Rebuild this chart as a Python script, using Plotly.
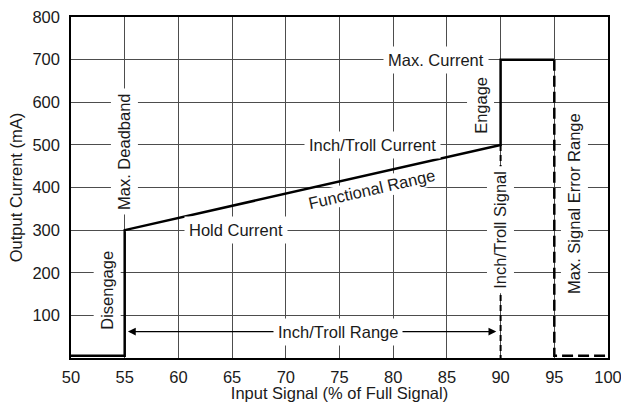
import plotly.graph_objects as go

# ---- data ----
x_solid = [50, 55, 55, 90, 90, 95]
y_solid = [5, 5, 300, 500, 700, 700]
x_error = [95, 95, 100]
y_error = [700, 5, 5]
x_signal = [90, 90]
y_signal = [500, 0]

x_ticks = [50, 55, 60, 65, 70, 75, 80, 85, 90, 95, 100]
y_ticks = [100, 200, 300, 400, 500, 600, 700, 800]

label_text = ["Max. Current", "Engage", "Inch/Troll Current", "Functional Range",
              "Hold Current", "Max. Deadband", "Disengage", "Inch/Troll Range",
              "Inch/Troll Signal", "Max. Signal Error Range"]
label_x = [84.0, 88.1, 78.1, 78.0, 65.4, 55.0, 53.35, 74.9, 90.0, 96.9]
label_y = [700, 592, 500, 397, 300, 485, 160, 62, 300, 363]
label_angle = [0, -90, 0, -12.8, 0, -90, -90, 0, -90, -90]
label_pad = [4, 4, 4, 1, 4, 4, 4, 4, 4, 4]

range_start, range_end, range_level = 55.3, 89.6, 62

FONT = "Liberation Sans, Arial, Helvetica, sans-serif"
FS = 16.5

fig = go.Figure()
fig.add_trace(go.Scatter(x=x_signal, y=y_signal, mode="lines",
                         line=dict(color="black", width=2, dash="6px,4px"),
                         showlegend=False, hoverinfo="skip"))
fig.add_trace(go.Scatter(x=x_error, y=y_error, mode="lines",
                         line=dict(color="black", width=2.5, dash="11px,5px"),
                         showlegend=False, hoverinfo="skip"))
fig.add_trace(go.Scatter(x=x_solid, y=y_solid, mode="lines",
                         line=dict(color="black", width=2.5),
                         showlegend=False, hoverinfo="skip"))

# double arrow for Inch/Troll Range
mid = (range_start + range_end) / 2
for tip in (range_start, range_end):
    fig.add_annotation(x=tip, y=range_level, ax=mid, ay=range_level,
                       xref="x", yref="y", axref="x", ayref="y",
                       text="", showarrow=True, arrowhead=2, arrowsize=1.3,
                       arrowwidth=1.2, arrowcolor="black")

for t, x, y, a, p in zip(label_text, label_x, label_y, label_angle, label_pad):
    fig.add_annotation(x=x, y=y, xref="x", yref="y", text=t, showarrow=False,
                       textangle=a, bgcolor="white", borderpad=p,
                       font=dict(family=FONT, size=FS, color="#1a1a1a"))

fig.update_layout(
    width=621, height=402,
    margin=dict(l=71, r=13, t=17, b=44, autoexpand=False),
    paper_bgcolor="white", plot_bgcolor="white",
    font=dict(family=FONT, size=FS, color="#1a1a1a"),
    xaxis=dict(range=[50, 100], tickvals=x_ticks, ticktext=[str(v) for v in x_ticks],
               showgrid=True, gridcolor="#4d4d4d", gridwidth=1,
               showline=True, linecolor="black", linewidth=1.5, mirror=True,
               zeroline=False, ticks="", ticklabelstandoff=3, automargin=False,
               ticklabeloverflow="allow",
               title=dict(text="Input Signal (% of Full Signal)", standoff=2,
                          font=dict(size=FS))),
    yaxis=dict(range=[0, 800], tickvals=y_ticks, ticktext=[str(v) for v in y_ticks],
               showgrid=True, gridcolor="#4d4d4d", gridwidth=1,
               showline=True, linecolor="black", linewidth=1.5, mirror=True,
               zeroline=False, ticks="", ticklabelstandoff=6, automargin=False,
               ticklabeloverflow="allow",
               title=dict(text="Output Current (mA)", standoff=6,
                          font=dict(size=FS))),
)

fig.write_html("out.html", config={"displayModeBar": False},
               post_script="document.body.style.margin='0';document.body.style.overflow='hidden';")
